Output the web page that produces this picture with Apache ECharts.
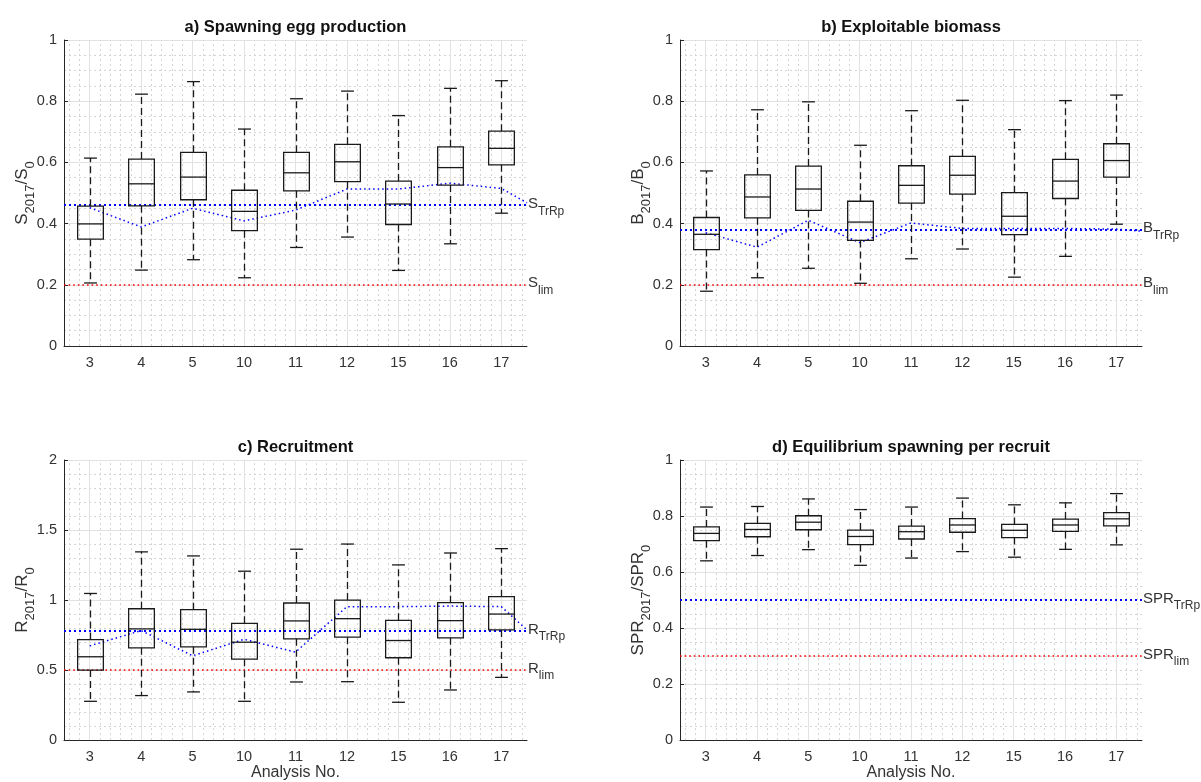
<!DOCTYPE html>
<html>
<head>
<meta charset="utf-8">
<script src="https://cdn.jsdelivr.net/npm/echarts@6/dist/echarts.min.js"></script>
<style>
html,body{margin:0;padding:0;background:#fff;}
#chart{width:1201px;height:782px;}
</style>
</head>
<body>
<div id="chart"></div>
<script>
// ---------- data ----------
const categories = ['3', '4', '5', '10', '11', '12', '15', '16', '17'];

// rows: [lower whisker, Q1, median, Q3, upper whisker]
const spawnBoxes = [
  [0.206, 0.349, 0.399, 0.457, 0.614],
  [0.248, 0.458, 0.530, 0.611, 0.823],
  [0.282, 0.478, 0.552, 0.633, 0.864],
  [0.223, 0.377, 0.440, 0.509, 0.709],
  [0.322, 0.507, 0.566, 0.633, 0.808],
  [0.356, 0.537, 0.602, 0.659, 0.833],
  [0.247, 0.397, 0.464, 0.539, 0.753],
  [0.334, 0.526, 0.583, 0.651, 0.842],
  [0.434, 0.592, 0.646, 0.702, 0.867]
];
const biomassBoxes = [
  [0.179, 0.315, 0.365, 0.420, 0.572],
  [0.223, 0.419, 0.487, 0.559, 0.772],
  [0.254, 0.443, 0.513, 0.588, 0.798],
  [0.205, 0.345, 0.405, 0.473, 0.656],
  [0.285, 0.467, 0.525, 0.589, 0.769],
  [0.317, 0.496, 0.558, 0.620, 0.803],
  [0.225, 0.364, 0.424, 0.501, 0.707],
  [0.293, 0.482, 0.539, 0.610, 0.802],
  [0.398, 0.552, 0.606, 0.661, 0.820]
];
const recruitBoxes = [
  [0.277, 0.500, 0.595, 0.718, 1.047],
  [0.318, 0.659, 0.794, 0.938, 1.344],
  [0.344, 0.666, 0.791, 0.931, 1.315],
  [0.277, 0.578, 0.699, 0.834, 1.206],
  [0.415, 0.723, 0.851, 0.979, 1.363],
  [0.417, 0.735, 0.867, 1.000, 1.400],
  [0.270, 0.588, 0.711, 0.855, 1.251],
  [0.358, 0.730, 0.853, 0.981, 1.336],
  [0.448, 0.787, 0.900, 1.024, 1.367]
];
const sprBoxes = [
  [0.640, 0.712, 0.738, 0.761, 0.832],
  [0.659, 0.726, 0.752, 0.774, 0.834],
  [0.680, 0.751, 0.778, 0.801, 0.861],
  [0.624, 0.698, 0.727, 0.750, 0.823],
  [0.650, 0.718, 0.744, 0.764, 0.832],
  [0.673, 0.742, 0.768, 0.791, 0.864],
  [0.653, 0.723, 0.749, 0.770, 0.840],
  [0.681, 0.745, 0.768, 0.789, 0.847],
  [0.697, 0.765, 0.790, 0.812, 0.880]
];

// per-analysis target reference curves (last value = at right axis edge)
const spawnTrRpCurve = [0.452, 0.389, 0.450, 0.409, 0.444, 0.513, 0.513, 0.532, 0.515, 0.468];
const biomassTrRpCurve = [0.370, 0.323, 0.411, 0.338, 0.402, 0.384, 0.384, 0.384, 0.382, 0.375];
const recruitTrRpCurve = [0.673, 0.782, 0.602, 0.720, 0.628, 0.953, 0.953, 0.957, 0.953, 0.787];
const curveX = [1, 2, 3, 4, 5, 6, 7, 8, 9, 9.5];

// reference levels
const trrpLevels = [0.457, 0.377, 0.775, 0.5];
const limLevels = [0.2, 0.2, 0.5, 0.3];

const yTickMax = [1, 1, 2, 1];
const yTickStep = [0.2, 0.2, 0.5, 0.2];

// ---------- layout ----------
const FONT = '"Liberation Sans", Arial, Helvetica, sans-serif';
const AX = '#262626';
const TXT = '#333';
const panels = [
  {title: 'a) Spawning egg production', sym: 'S', boxes: spawnBoxes, curve: spawnTrRpCurve,
   grid: {left: 64, top: 40, width: 463, height: 306}, minor: 4, xName: ''},
  {title: 'b) Exploitable biomass', sym: 'B', boxes: biomassBoxes, curve: biomassTrRpCurve,
   grid: {left: 680, top: 40, width: 462, height: 306}, minor: 4, xName: ''},
  {title: 'c) Recruitment', sym: 'R', boxes: recruitBoxes, curve: recruitTrRpCurve,
   grid: {left: 64, top: 460, width: 463, height: 281}, minor: 5, xName: 'Analysis No.'},
  {title: 'd) Equilibrium spawning per recruit', sym: 'SPR', boxes: sprBoxes, curve: null,
   grid: {left: 680, top: 460, width: 462, height: 281}, minor: 4, xName: 'Analysis No.'}
];

const richText = {
  b: {fontSize: 15, color: TXT, fontFamily: FONT, padding: [0, 0, 3, 0]},
  s: {fontSize: 12, color: TXT, fontFamily: FONT, padding: [12, 0, 0, 0]}
};
const nameRich = {
  b: {fontSize: 17, color: TXT, fontFamily: FONT, padding: [0, 0, 4, 0]},
  s: {fontSize: 13, color: TXT, fontFamily: FONT, padding: [12, 0, 0, 0]}
};

// gridline positions on the numeric x scale (0.5 .. 9.5)
const majorX = [];
const minorX = [];
for (let k = 3; k <= 47; k++) {
  if (k % 5 === 0) majorX.push(k / 5); else minorX.push(k / 5);
}

function boxRenderer(params, api) {
  const x = api.value(0);
  const lo = api.coord([x, api.value(1)]);
  const q1 = api.coord([x, api.value(2)]);
  const md = api.coord([x, api.value(3)]);
  const q3 = api.coord([x, api.value(4)]);
  const hi = api.coord([x, api.value(5)]);
  const bw = api.size([0.5, 0])[0];
  const cw = api.size([0.25, 0])[0];
  const cx = Math.round(lo[0]) + 0.5;
  const stroke = '#1a1a1a';
  const solid = {stroke: stroke, lineWidth: 1.3, fill: null};
  const dashed = {stroke: stroke, lineWidth: 1.3, lineDash: [7, 4], fill: null};
  return {
    type: 'group',
    children: [
      {type: 'line', shape: {x1: cx, y1: q3[1], x2: cx, y2: hi[1]}, style: dashed},
      {type: 'line', shape: {x1: cx, y1: q1[1], x2: cx, y2: lo[1]}, style: dashed},
      {type: 'line', shape: {x1: cx - cw / 2, y1: hi[1], x2: cx + cw / 2, y2: hi[1]}, style: solid},
      {type: 'line', shape: {x1: cx - cw / 2, y1: lo[1], x2: cx + cw / 2, y2: lo[1]}, style: solid},
      {type: 'rect', shape: {x: cx - bw / 2, y: q3[1], width: bw, height: q1[1] - q3[1]}, style: solid},
      {type: 'line', shape: {x1: cx - bw / 2, y1: md[1], x2: cx + bw / 2, y2: md[1]}, style: solid}
    ]
  };
}

const option = {
  animation: false,
  backgroundColor: '#fff',
  textStyle: {fontFamily: FONT},
  grid: [], xAxis: [], yAxis: [], series: [], graphic: []
};

panels.forEach((p, i) => {
  option.grid.push(Object.assign({containLabel: false}, p.grid));
  // category axis for labels / ticks
  option.xAxis.push({
    type: 'category', gridIndex: i, data: categories, boundaryGap: true,
    axisLine: {lineStyle: {color: AX, width: 1}},
    axisTick: {alignWithLabel: true, inside: true, length: 4, lineStyle: {color: AX}},
    axisLabel: {color: TXT, fontSize: 14.5, margin: 9, fontFamily: FONT},
    splitLine: {show: false},
    name: p.xName, nameLocation: 'middle', nameGap: 24,
    nameTextStyle: {color: TXT, fontSize: 16, fontFamily: FONT}
  });
  // numeric axis used for drawing
  option.xAxis.push({
    type: 'value', gridIndex: i, min: 0.5, max: 9.5, show: false
  });
  const sub = '{b|' + p.sym + '}{s|2017}{b|/' + p.sym + '}{s|0}';
  option.yAxis.push({
    type: 'value', gridIndex: i, min: 0, max: yTickMax[i], interval: yTickStep[i],
    axisLine: {show: true, lineStyle: {color: AX, width: 1}},
    axisTick: {show: true, inside: true, length: 4, lineStyle: {color: AX}},
    axisLabel: {color: TXT, fontSize: 14.5, margin: 7, fontFamily: FONT},
    splitLine: {show: true, lineStyle: {color: '#e2e2e2', width: 1}},
    minorTick: {show: false, splitNumber: p.minor},
    minorSplitLine: {show: true, lineStyle: {color: '#d4d4d4', width: 1, type: [2, 3]}},
    name: sub, nameLocation: 'middle', nameGap: 27, nameRotate: 90, nameMoveOverlap: false,
    nameTextStyle: {rich: nameRich}
  });
  const xi = 2 * i + 1;
  // vertical grid lines (behind everything)
  option.series.push({
    type: 'line', xAxisIndex: xi, yAxisIndex: i, data: [], z: 1, silent: true,
    markLine: {
      z: 1, silent: true, symbol: 'none', label: {show: false}, animation: false,
      data: minorX.map(v => ({xAxis: v, lineStyle: {color: '#d4d4d4', width: 1, type: [2, 3]}}))
        .concat(majorX.map(v => ({xAxis: v, lineStyle: {color: '#e2e2e2', width: 1, type: 'solid'}})))
    }
  });
  // limit reference
  option.series.push({
    type: 'line', xAxisIndex: xi, yAxisIndex: i, data: [], z: 3, silent: true,
    markLine: {
      z: 3, silent: true, symbol: 'none', animation: false,
      lineStyle: {color: '#ff0000', width: 1.6, type: [1.6, 3]},
      label: {show: true, position: 'end', distance: 1, formatter: '{b|' + p.sym + '}{s|lim}', rich: richText},
      data: [{yAxis: limLevels[i]}]
    }
  });
  // target reference
  option.series.push({
    type: 'line', xAxisIndex: xi, yAxisIndex: i, data: [], z: 3, silent: true,
    markLine: {
      z: 3, silent: true, symbol: 'none', animation: false,
      lineStyle: {color: '#0000ff', width: 2, type: [2, 3]},
      label: {show: true, position: 'end', distance: 1, formatter: '{b|' + p.sym + '}{s|TrRp}', rich: richText},
      data: [{yAxis: trrpLevels[i]}]
    }
  });
  if (p.curve) {
    option.series.push({
      type: 'line', xAxisIndex: xi, yAxisIndex: i, z: 4, silent: true,
      symbol: 'none', clip: true,
      lineStyle: {color: '#0000ff', width: 1.5, type: [1.5, 3]},
      data: p.curve.map((v, k) => [curveX[k], v])
    });
  }
  option.series.push({
    type: 'custom', xAxisIndex: xi, yAxisIndex: i, z: 6, silent: true,
    renderItem: boxRenderer,
    encode: {x: 0, y: [1, 2, 3, 4, 5]},
    data: p.boxes.map((r, k) => [k + 1].concat(r))
  });
  option.graphic.push({
    type: 'text',
    x: p.grid.left + p.grid.width / 2,
    y: p.grid.top - 13,
    style: {
      text: p.title, font: 'bold 16.5px ' + FONT, fill: '#111',
      align: 'center', verticalAlign: 'middle'
    }
  });
});

const chart = echarts.init(document.getElementById('chart'), null, {renderer: 'canvas'});
chart.setOption(option);
</script>
</body>
</html>
